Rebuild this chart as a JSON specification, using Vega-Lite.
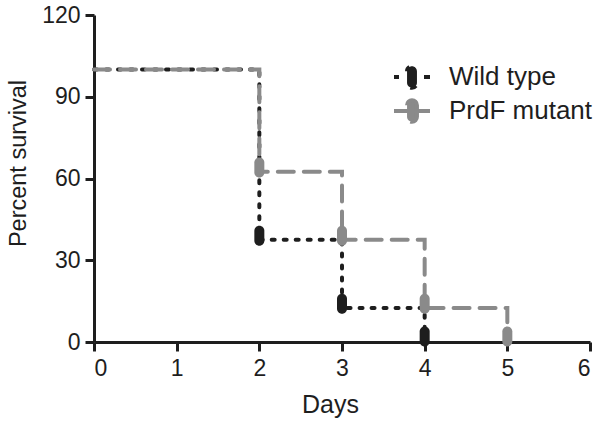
{
  "$schema": "https://vega.github.io/schema/vega-lite/v6.json",
  "width": 496,
  "height": 327,
  "autosize": {"type": "none"},
  "padding": {"left": 94, "top": 15, "right": 10, "bottom": 82},
  "background": "white",
  "config": {
    "view": {"stroke": null},
    "font": "Liberation Sans",
    "axis": {
      "domainColor": "#1e1e1e", "domainWidth": 3, "tickColor": "#1e1e1e", "tickWidth": 3, "tickSize": 9,
      "labelFont": "Liberation Sans", "labelFontSize": 23, "labelColor": "#1e1e1e",
      "titleFont": "Liberation Sans", "titleFontSize": 25, "titleFontWeight": "normal", "titleColor": "#1e1e1e",
      "grid": false
    }
  },
  "datasets": {
    "steps": [
      {"group": "Wild type", "day": 0, "survival": 100},
      {"group": "Wild type", "day": 2, "survival": 37.5},
      {"group": "Wild type", "day": 3, "survival": 12.5},
      {"group": "Wild type", "day": 4, "survival": 0},
      {"group": "PrdF mutant", "day": 0, "survival": 100},
      {"group": "PrdF mutant", "day": 2, "survival": 62.5},
      {"group": "PrdF mutant", "day": 3, "survival": 37.5},
      {"group": "PrdF mutant", "day": 4, "survival": 12.5},
      {"group": "PrdF mutant", "day": 5, "survival": 0}
    ],
    "events": [
      {"group": "Wild type", "day": 2, "survival": 39},
      {"group": "Wild type", "day": 3, "survival": 14},
      {"group": "Wild type", "day": 4, "survival": 2},
      {"group": "PrdF mutant", "day": 2, "survival": 64},
      {"group": "PrdF mutant", "day": 3, "survival": 39},
      {"group": "PrdF mutant", "day": 4, "survival": 14},
      {"group": "PrdF mutant", "day": 5, "survival": 2}
    ]
  },
  "layer": [
    {
      "data": {"name": "steps"},
      "transform": [{"filter": "datum.group === 'Wild type'"}],
      "mark": {"type": "line", "interpolate": "step-after", "strokeWidth": 4, "strokeDash": [3, 9], "strokeCap": "round", "clip": false},
      "encoding": {
        "x": {"field": "day", "type": "quantitative", "scale": {"domain": [0, 6], "nice": false}, "axis": {"title": "Days", "values": [0,1,2,3,4,5,6], "format": "d", "labelPadding": 6, "titlePadding": 12, "titleX": 236}},
        "y": {"field": "survival", "type": "quantitative", "scale": {"domain": [0, 120], "nice": false}, "axis": {"title": "Percent survival", "values": [0,30,60,90,120], "labelPadding": 5, "titlePadding": 11, "titleY": 148, "titleFontSize": 23.5}},
        "color": {"field": "group", "type": "nominal",
          "scale": {"domain": ["Wild type", "PrdF mutant"], "range": ["#1e1e1e", "#8a8a8a"]},
          "legend": {
            "title": null, "orient": "none", "legendX": 305, "legendY": 49,
            "labelFont": "Liberation Sans", "labelFontSize": 26, "labelColor": "#1e1e1e",
            "symbolType": "M -2 0 L 2 0 M -0.55 -0.65 A 0.55 0.55 0 0 1 0.55 -0.65 L 0.55 0.65 A 0.55 0.55 0 0 1 -0.55 0.65 Z",
            "symbolSize": 324, "symbolStrokeWidth": 4, "labelOffset": 24, "rowPadding": -4,
            "encode": {"symbols": {"update": {
              "fill": {"scale": "color", "field": "value"},
              "strokeDash": {"signal": "datum.value === 'Wild type' ? [5, 25, 6, 300] : [36, 300]"},
              "strokeDashOffset": {"value": 0}
            }}}
          }}
      }
    },
    {
      "data": {"name": "steps"},
      "transform": [{"filter": "datum.group === 'PrdF mutant'"}],
      "mark": {"type": "line", "interpolate": "step-after", "strokeWidth": 4, "strokeDash": [16, 10], "strokeCap": "round", "clip": false},
      "encoding": {
        "x": {"field": "day", "type": "quantitative"},
        "y": {"field": "survival", "type": "quantitative"},
        "color": {"field": "group", "type": "nominal"}
      }
    },
    {
      "data": {"name": "events"},
      "mark": {"type": "point", "filled": true, "opacity": 1, "size": 400,
        "shape": "M -0.5 -0.5 A 0.5 0.5 0 0 1 0.5 -0.5 L 0.5 0.5 A 0.5 0.5 0 0 1 -0.5 0.5 Z", "clip": false},
      "encoding": {
        "x": {"field": "day", "type": "quantitative"},
        "y": {"field": "survival", "type": "quantitative"},
        "color": {"field": "group", "type": "nominal", "legend": null}
      }
    }
  ]
}
